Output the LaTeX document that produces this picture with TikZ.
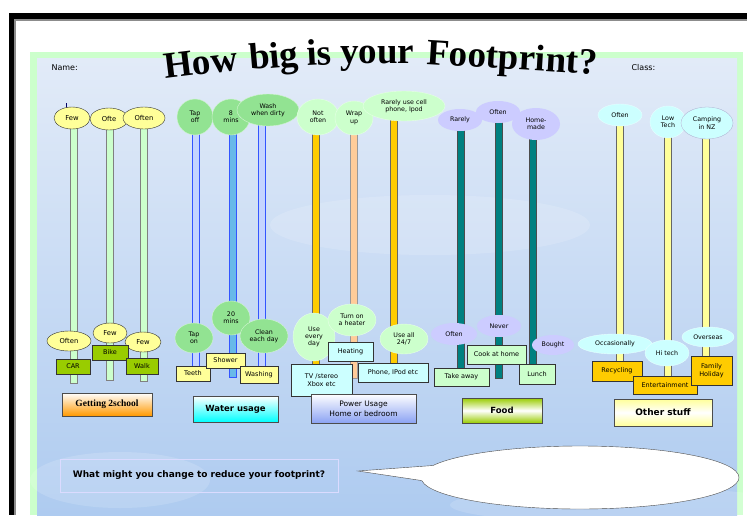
\documentclass[tikz,border=0pt]{standalone}
\usepackage{fontspec}
\setmainfont{DejaVu Sans}
\newfontfamily\titlefont{Liberation Serif}
\usetikzlibrary{shapes.geometric, shapes.callouts}

\definecolor{skytop}{HTML}{E2EBF8}
\definecolor{skybot}{HTML}{AECBF0}
\definecolor{rim}{HTML}{CCFFCC}
\definecolor{yel}{HTML}{FFFF99}
\definecolor{olive}{HTML}{99CC00}
\definecolor{gold}{HTML}{FFCC00}
\definecolor{peach}{HTML}{FFCC99}
\definecolor{mint}{HTML}{CCFFCC}
\definecolor{leaf}{HTML}{92E392}
\definecolor{ice}{HTML}{CCFFFF}
\definecolor{lilac}{HTML}{CCCCFF}
\definecolor{teal}{HTML}{008080}
\definecolor{sblue}{HTML}{C4D4FF}
\definecolor{deepblue}{HTML}{3355FF}

\tikzset{
    pole/.style={line width=0.5pt},
    bub/.style={ellipse, inner sep=0pt, align=center,
        font=\fontsize{6.3}{7.3}\selectfont},
    tag/.style={draw=black!80, inner sep=0pt, align=center,
        font=\fontsize{6.5}{8}\selectfont},
    head/.style={draw=black!70, inner sep=0pt, align=center},
    ttl/.style={anchor=base west, inner sep=0pt,
        font=\titlefont\bfseries\fontsize{37}{37}\selectfont},
}

\begin{document}
\begin{tikzpicture}[x=1pt, y=-1pt]
    \useasboundingbox (0,0) rectangle (747,515);
    \fill[white] (0,0) rectangle (747,515);
    % frame
    \fill[black] (9,13) rectangle (747,18.5);
    \fill[black!45] (14,18.5) rectangle (747,21);
    \fill[black] (9,13) rectangle (14,515);
    \fill[black!45] (14,18.5) rectangle (15.5,515);
    % sheet
    \fill[rim] (30,52) rectangle (743,515);
    \shade[top color=skytop, bottom color=skybot] (37,58) rectangle (737,515);
    \foreach \x/\y/\rx/\ry in {430/225/160/30, 620/505/170/18, 120/480/90/28} {
        \fill[white, opacity=0.15] (\x,\y) ellipse [x radius=\rx, y radius=\ry];
    }

    \node[anchor=base west, font=\fontsize{8}{9}\selectfont] (name) at (48,70) {Name:};
    \node[anchor=base west, font=\fontsize{8}{9}\selectfont] (class) at (628,70) {Class:};
    % title, word by word along an arch
    \node[ttl, rotate=7] (tHow) at (165,79) {How};
    \node[ttl, rotate=5] (tBig) at (250,70) {big};
    \node[ttl, rotate=3] (tIs) at (307,66) {is};
    \node[ttl, rotate=0] (tYour) at (340,63) {your};
    \node[ttl, rotate=-3.5] (tFoot) at (426,64) {Footprint?};

    % poles
    \foreach \x/\ya/\yb/\c/\d in {
        74/118/383/mint/black!50, 110/119/380/mint/black!50, 144/118/381/mint/black!50,
        196/117/368/sblue/deepblue, 233/117/377/cyan!80!blue!60/deepblue, 262/110/368/sblue/deepblue,
        316/117/366/gold/black!60, 354/118/378/peach/black!40, 394/106/366/gold/black!60,
        461/120/370/teal/black!70, 499/112/378/teal/black!70, 533/124/368/teal/black!70,
        620/115/366/yel/black!60, 668/122/386/yel/black!60, 706/123/362/yel/black!60} {
        \draw[pole, fill=\c, draw=\d] (\x-3.5,\ya) rectangle (\x+3.5,\yb);
    }
    \draw[blue!40!black, line width=0.8pt] (66,103) -- (66,113);

    % getting to school
    \foreach \x/\y/\w/\h/\t [count=\i] in {72/118/36/22/Few, 109/119/38/22/Ofte,
        144/118/42/22/Often, 69/341/44/20/Often, 110/333/34/20/Few, 143/342/36/20/Few} {
        \node[bub, fill=yel, draw=black!80, minimum width=\w, minimum height=\h,
            font=\fontsize{6.8}{7}\selectfont] (sb\i) at (\x,\y) {\t};
    }
    % water
    \foreach \x/\y/\w/\h/\t [count=\i] in {195/117/36/36/{Tap\\off}, 231/117/38/36/{8\\mins},
        268/110/62/32/{Wash\\when dirty}, 194/338/38/30/{Tap\\on}, 231/318/38/34/{20\\mins},
        264/336/48/34/{Clean\\each day}} {
        \node[bub, fill=leaf, draw=white!60!leaf, minimum width=\w, minimum height=\h] (wb\i) at (\x,\y) {\t};
    }
    % power
    \foreach \x/\y/\w/\h/\t [count=\i] in {318/117/42/36/{Not\\often}, 354/118/38/34/{Wrap\\up},
        404/106/82/30/{Rarely use cell\\phone, Ipod}, 314/337/42/48/{Use\\every\\day},
        352/320/48/32/{Turn on\\a heater}, 404/339/48/30/{Use all\\24/7}} {
        \node[bub, fill=mint, draw=white!50!mint, minimum width=\w, minimum height=\h] (pb\i) at (\x,\y) {\t};
    }
    % food
    \foreach \x/\y/\w/\h/\t [count=\i] in {460/120/44/22/Rarely, 498/112/44/22/Often,
        536/124/48/32/{Home-\\made}, 454/334/46/22/Often, 499/326/44/22/Never, 553/345/42/20/Bought} {
        \node[bub, fill=lilac, minimum width=\w, minimum height=\h] (fb\i) at (\x,\y) {\t};
    }
    % other
    \foreach \x/\y/\w/\h/\t [count=\i] in {620/115/44/22/Often, 668/122/36/32/{Low\\Tech},
        707/123/52/32/{Camping\\in NZ}, 615/344/74/20/Occasionally, 667/353/44/26/Hi tech,
        708/337/52/20/Overseas} {
        \node[bub, fill=ice, draw=white!50!ice, minimum width=\w, minimum height=\h] (ob\i) at (\x,\y) {\t};
    }
    \draw[lilac!80!black, line width=0.3pt] (ob3) ellipse [x radius=26, y radius=16];

    % tags
    \foreach \x/\y/\w/\h/\t/\c [count=\i] in {
        110/352.5/36/15/Bike/olive, 73/366.5/34/15/CAR/olive, 142/366/32/16/Walk/olive,
        193/373.5/34/15/Teeth/yel, 225.5/360.5/39/15/Shower/yel, 259/374.5/38/17/Washing/yel,
        350.5/351.5/45/19/Heating/ice, 321.5/380/61/32/{TV /stereo\\Xbox etc}/ice,
        393/372.5/70/19/{Phone, IPod etc}/ice,
        496.5/354.5/59/19/{Cook at home}/mint, 461.5/377/55/18/{Take away}/mint, 537/374/36/20/Lunch/mint,
        617/371/50/20/Recycling/gold, 665/385/64/18/Entertainment/gold,
        711.5/370.5/41/29/{Family\\Holiday}/gold} {
        \node[tag, fill=\c, minimum width=\w, minimum height=\h] (tg\i) at (\x,\y) {\t};
    }

    % group heads
    \node[head, top color=white, bottom color=orange!80!yellow, minimum width=90, minimum height=23,
        font=\titlefont\bfseries\fontsize{9.5}{10}\selectfont] (school) at (107,404.5) {Getting 2school};
    \node[head, top color=white, bottom color=cyan, minimum width=85, minimum height=26,
        font=\bfseries\fontsize{8.5}{10}\selectfont] (water) at (235.5,409) {Water usage};
    \node[head, top color=white, bottom color=skybot!80!blue, minimum width=105, minimum height=29,
        font=\fontsize{7.5}{10}\selectfont] (power) at (363.5,408.5) {Power Usage\\Home or bedroom};
    \node[head, top color=olive, bottom color=olive, middle color=white, minimum width=80, minimum height=25,
        font=\bfseries\fontsize{8.5}{10}\selectfont] (food) at (502,410.5) {Food};
    \node[head, top color=yel, bottom color=yel, middle color=white, minimum width=98, minimum height=27,
        font=\bfseries\fontsize{9}{10}\selectfont] (other) at (663,412.5) {Other stuff};

    % question
    \node[draw=lilac!70, minimum width=278, minimum height=33, inner sep=0pt,
        font=\bfseries\fontsize{9}{10}\selectfont] (question) at (199,475.5)
        {What might you change to reduce your footprint?};
    \coordinate (tip) at (358,471);
    \node[ellipse callout, draw=black!70, fill=white, minimum width=318, minimum height=63,
        callout pointer arc=28, callout absolute pointer=(tip)] (answer) at (580,477.5) {};
\end{tikzpicture}
\end{document}
